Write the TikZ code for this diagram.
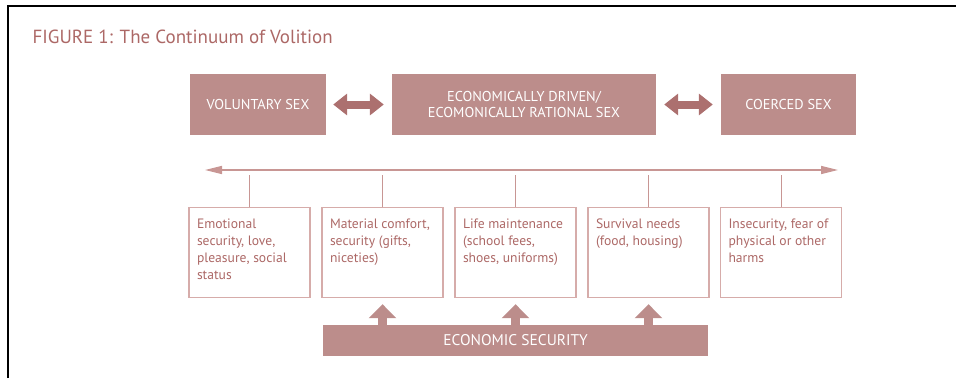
\documentclass[tikz,border=0pt]{standalone}
\usepackage{fontspec}
\setmainfont{PT Sans}
\usetikzlibrary{arrows.meta}
\definecolor{rosefill}{RGB}{188,141,139}
\definecolor{rosedark}{RGB}{172,112,111}
\definecolor{roseline}{RGB}{200,150,148}
\definecolor{roseedge}{RGB}{214,172,170}
\definecolor{rosetext}{RGB}{172,104,102}
\tikzset{topbox/.style={fill=rosefill, text=white, minimum height=61pt,
        align=center, inner sep=0pt, font=\fontsize{14.3}{16}\selectfont},
    infobox/.style={draw=roseedge, line width=1.2pt, anchor=north,
        inner xsep=8pt, inner ysep=11pt, text=rosetext,
        font=\fontsize{13.6}{17}\selectfont},
    fatarrow/.style={rosedark, line width=8pt,
        {Triangle[length=14pt,width=21pt]}-{Triangle[length=14pt,width=21pt]}},
    uparrow/.style={rosefill, line width=9pt, -{Triangle[length=14pt,width=27pt]}},
    scaleline/.style={roseline, line width=1.6pt,
        {Triangle[length=17pt,width=8pt]}-{Triangle[length=17pt,width=8pt]}},
    tickline/.style={roseline, line width=1pt},
    }
\newcommand{\infotext}[1]{\parbox[t][68pt][t]{105pt}{\raggedright #1}}

\begin{document}
\begin{tikzpicture}[x=1pt,y=-1pt]
\useasboundingbox (0,0) rectangle (956,378);
\draw[line width=1.8pt] (8,378) -- (8,6) -- (956,6);% frame
\node[anchor=base west, text=rosetext, font=\fontsize{19}{24}\selectfont]
    (title) at (29,43) {FIGURE 1: The Continuum of Volition};
% top row
\node[topbox, minimum width=136pt] (vol) at (258,104.5) {VOLUNTARY SEX};
\node[topbox, minimum width=264pt] (econ) at (524,104.5)
    {ECONOMICALLY DRIVEN/\\ECOMONICALLY RATIONAL SEX};
\node[topbox, minimum width=135pt] (coer) at (788.5,104.5) {COERCED SEX};
\draw[fatarrow, shorten <=7pt, shorten >=8pt] (vol) -- (econ);
\draw[fatarrow, shorten <=8pt, shorten >=8pt] (econ) -- (coer);
% continuum
\coordinate (left) at (205,170);
\coordinate (right) at (838,170);
\coordinate (ticktop) at (0,175);
\draw[scaleline] (left) -- (right);
% boxes
\node[infobox] (emo) at (249.5,207)
    {\infotext{Emotional\\security, love,\\pleasure, social\\status}};
\node[infobox] (mat) at (382.5,207)
    {\infotext{Material comfort,\\security (gifts,\\niceties)}};
\node[infobox] (life) at (515.5,207)
    {\infotext{Life maintenance\\(school fees,\\shoes, uniforms)}};
\node[infobox] (surv) at (648.5,207)
    {\infotext{Survival needs\\(food, housing)}};
\node[infobox] (insec) at (781,207)
    {\infotext{Insecurity, fear of\\physical or other\\harms}};
\foreach \b in {emo,mat,life,surv,insec}
    \draw[tickline] (\b.north) -- (\b.north |- ticktop);
% economic security
\node[fill=rosefill, text=white, minimum width=385pt, minimum height=31pt,
    inner sep=0pt, font=\fontsize{15.5}{18}\selectfont] (bar) at (515.5,340.5)
    {ECONOMIC SECURITY};
\foreach \b in {mat,life,surv}
    \draw[uparrow, shorten >=6pt] (bar.north -| \b.south) -- (\b.south);
\end{tikzpicture}
\end{document}
